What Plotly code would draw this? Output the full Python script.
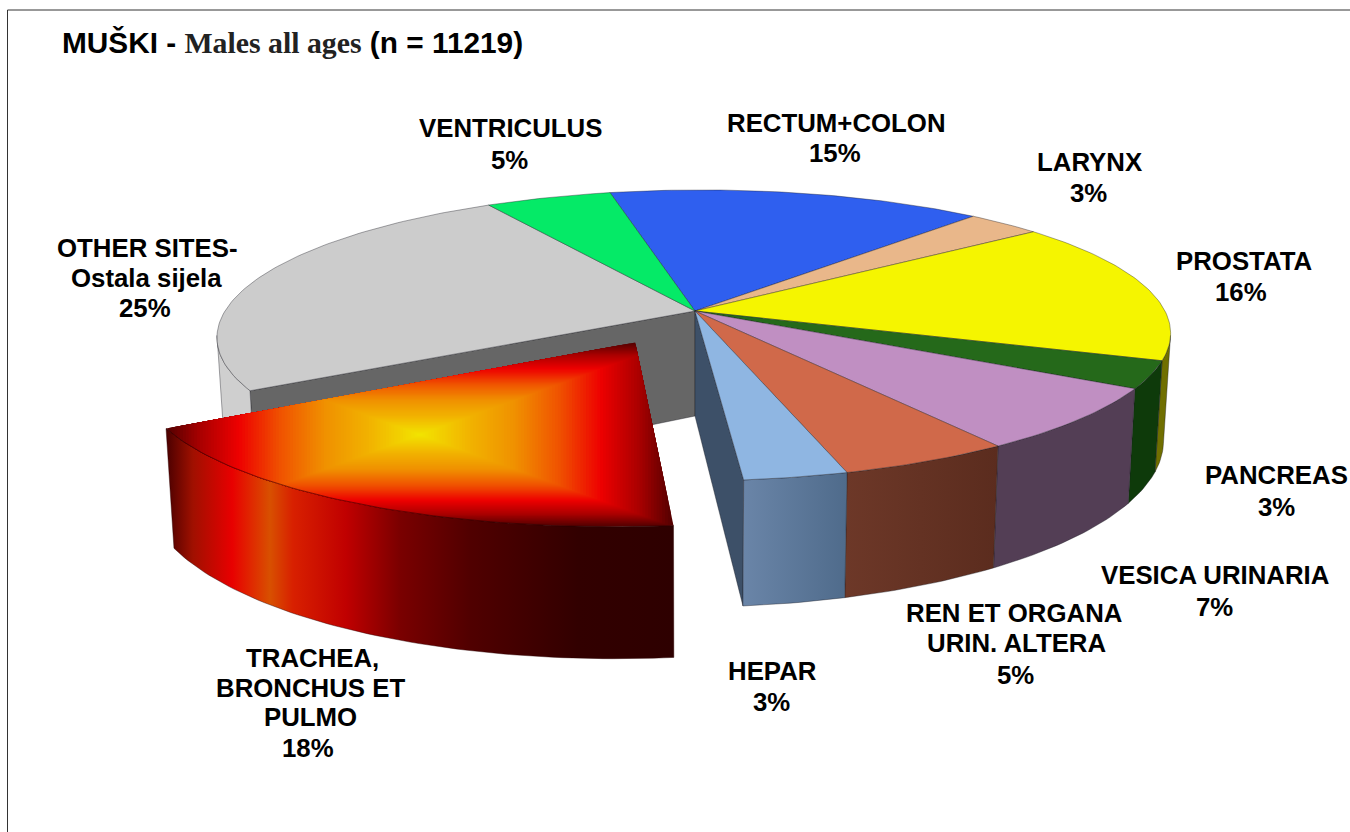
import numpy as np
import plotly.graph_objects as go

# ---------- data ----------
categories = ["RECTUM+COLON", "LARYNX", "PROSTATA", "PANCREAS", "VESICA URINARIA",
              "REN ET ORGANA<br>URIN. ALTERA", "HEPAR", "TRACHEA,<br>BRONCHUS ET<br>PULMO",
              "OTHER SITES-<br>Ostala sijela", "VENTRICULUS"]
values = [15, 3, 16, 3, 7, 5, 3, 18, 25, 5]
top_colors = ["#2f5fef", "#e9b78a", "#f5f500", "#25691a", "#c08fc2",
              "#d0694a", "#8fb6e2", "#c00000", "#cccccc", "#05ea67"]
wall_colors = ["#18307a", "#75593f", "#706f00", "#0e3a0a", "#533e55",
               "#622f20", "#5a7596", "#400000", "#cfcfcf", "#037a34"]
exploded = "TRACHEA,<br>BRONCHUS ET<br>PULMO"
title_male = "MUŠKI - "
title_en = "Males all ages"
title_n = " (n = 11219)"

# ---------- layout of label lines (paper pixels), one entry per text line ----------
label_xy = [
    [(836, 123), (835, 153)],
    [(1089, 162), (1088, 193)],
    [(1244, 261), (1241, 292)],
    [(1276, 475), (1276, 507)],
    [(1215, 575), (1214, 607)],
    [(1014, 613), (1016, 643), (1015, 675)],
    [(772, 671), (771, 702)],
    [(312, 658), (310, 688), (310, 717), (308, 748)],
    [(147, 248), (146, 278), (145, 308)],
    [(510, 128), (509, 160)],
]

# ---------- projection of the tilted disc ----------
CX, CY = 695, 311
A, B, K = 470, 141.4, 0.168
SKEW = 7
H = 105
BOTTOM_X = 0.985
START = -13
PULL = 0.24
PULL_DX = -0.012
EDGE_ANGLE = float(np.degrees(np.arccos(-K)))  # where the rim is widest on screen


def project(X, Z, drop=False):
    d = 1 + K * Z
    x = (A * X + SKEW * Z) / d
    y = -B * Z / d
    if drop:
        x = x * BOTTOM_X
        y = y + H / d
    return CX + x, CY + y


def arc(t1, t2):
    n = max(2, int(abs(t2 - t1)) + 2)
    th = np.radians(np.linspace(t1, t2, n))
    return np.sin(th), np.cos(th)


def poly(xs, ys, color=None, line="rgba(25,25,35,0.55)", lw=0.7, grad=None, name=""):
    kw = dict(x=list(xs), y=list(ys), mode="lines", fill="toself",
              line=dict(color=line, width=lw), hoverinfo="skip", showlegend=False, name=name)
    if grad is not None:
        kw["fillgradient"] = grad
    else:
        kw["fillcolor"] = color
    return go.Scatter(**kw)


def hgrad(x0, x1, stops):
    return dict(type="horizontal", start=x0, stop=x1, colorscale=stops)


# angles computed from the values
cum = np.cumsum([0] + values) * 3.6 + START
spans = list(zip(cum[:-1], cum[1:]))
fig = go.Figure()
ex_i = categories.index(exploded)
mid = np.radians(sum(spans[ex_i]) / 2)
ox, oz = PULL * np.sin(mid) + PULL_DX, PULL * np.cos(mid)

# cut faces bordering the gap
other_i = categories.index("OTHER SITES-<br>Ostala sijela")
hepar_i = categories.index("HEPAR")
for ang, col in [(spans[other_i][0], "#666666"), (spans[hepar_i][1], "#3d5068")]:
    a = np.radians(ang)
    px = [project(0, 0)[0], project(np.sin(a), np.cos(a))[0],
          project(np.sin(a), np.cos(a), True)[0], project(0, 0, True)[0]]
    py = [project(0, 0)[1], project(np.sin(a), np.cos(a))[1],
          project(np.sin(a), np.cos(a), True)[1], project(0, 0, True)[1]]
    fig.add_trace(poly(px + px[:1], py + py[:1], col))

# outer walls, visible front part only
wall_grads = {"HEPAR": [(0, "#6a85a8"), (1, "#4f6b8b")],
              "REN ET ORGANA<br>URIN. ALTERA": [(0, "#6d3828"), (1, "#5b2c1e")]}
for i, (t1, t2) in enumerate(spans):
    if i == ex_i:
        continue
    lo, hi = max(t1, EDGE_ANGLE), min(t2, 360 - EDGE_ANGLE)
    if lo >= hi:
        continue
    X, Z = arc(lo, hi)
    x1, y1 = project(X, Z)
    x2, y2 = project(X[::-1], Z[::-1], True)
    xs, ys = np.r_[x1, x2, x1[:1]], np.r_[y1, y2, y1[:1]]
    g = wall_grads.get(categories[i])
    grad = hgrad(xs.min(), xs.max(), g) if g else None
    fig.add_trace(poly(xs, ys, wall_colors[i], grad=grad, name=categories[i]))

# top faces
for i, (t1, t2) in enumerate(spans):
    if i == ex_i:
        continue
    X, Z = arc(t1, t2)
    x, y = project(np.r_[0, X, 0], np.r_[0, Z, 0])
    fig.add_trace(poly(x, y, top_colors[i], name=categories[i]))

# exploded slice: wall
t1, t2 = spans[ex_i]
X, Z = arc(t1, t2)
x1, y1 = project(X + ox, Z + oz)
x2, y2 = project(X[::-1] + ox, Z[::-1] + oz, True)
xs, ys = np.r_[x1, x2, x1[:1]], np.r_[y1, y2, y1[:1]]
wall_stops = [(166, "#4a0000"), (193, "#a01000"), (232, "#e80000"), (270, "#d85000"),
              (293, "#d82000"), (346, "#c00000"), (400, "#7a0000"), (471, "#500000"),
              (578, "#320000"), (674, "#2e0000")]
x0w, x1w = wall_stops[0][0], wall_stops[-1][0]
fig.add_trace(poly(xs, ys, grad=hgrad(x0w, x1w, [((p - x0w) / (x1w - x0w), c) for p, c in wall_stops]),
                   line="rgba(40,0,0,0.6)", name=exploded))

# exploded slice: top, rectangular path gradient
sx, sy = project(np.r_[ox, X + ox], np.r_[oz, Z + oz])
slice_pts = list(zip(sx, sy))
bx0, bx1, by0, by1 = sx.min(), sx.max(), sy.min(), sy.max()
mx, my = (bx0 + bx1) / 2, (by0 + by1) / 2


def clip(pts, axis, lim, keep_less):
    out = []
    n = len(pts)
    for k in range(n):
        p, q = pts[k], pts[(k + 1) % n]
        pin = p[axis] <= lim if keep_less else p[axis] >= lim
        qin = q[axis] <= lim if keep_less else q[axis] >= lim
        if pin:
            out.append(p)
        if pin != qin:
            f = (lim - p[axis]) / (q[axis] - p[axis])
            out.append((p[0] + f * (q[0] - p[0]), p[1] + f * (q[1] - p[1])))
    return out


grad_t = [0, 0.2, 0.38, 0.55, 0.72, 0.87, 1]
grad_rgb = [(242, 230, 0), (242, 180, 0), (240, 145, 0), (240, 85, 0), (238, 0, 0), (170, 0, 0), (85, 0, 0)]
LEVELS = 90
for lv in range(LEVELS, 0, -1):
    t = lv / LEVELS
    c = [int(np.interp(t, grad_t, [g[j] for g in grad_rgb])) for j in range(3)]
    col = f"rgb({c[0]},{c[1]},{c[2]})"
    pts = slice_pts
    hw, hh = (bx1 - bx0) / 2 * t, (by1 - by0) / 2 * t
    pts = clip(pts, 0, mx - hw, False)
    pts = clip(pts, 0, mx + hw, True) if pts else pts
    pts = clip(pts, 1, my - hh, False) if pts else pts
    pts = clip(pts, 1, my + hh, True) if pts else pts
    if len(pts) > 2:
        pts = pts + pts[:1]
        fig.add_trace(poly([p[0] for p in pts], [p[1] for p in pts], col, line=col, lw=0, name=exploded))
fig.add_trace(go.Scatter(x=list(x1), y=list(y1), mode="lines", line=dict(color="rgba(40,0,0,0.7)", width=0.8),
                         hoverinfo="skip", showlegend=False))

# ---------- text ----------
ann = []
for name, v, where in zip(categories, values, label_xy):
    for line, (lx, ly) in zip(name.split("<br>") + [f"{v}%"], where):
        ann.append(dict(x=lx, y=ly, xref="x", yref="y", text=f"<b>{line}</b>", showarrow=False,
                        xanchor="center", yanchor="middle",
                        font=dict(family="Liberation Sans", size=25.8, color="#000000")))
ann.append(dict(x=60, y=42, xref="x", yref="y", showarrow=False, xanchor="left", yanchor="middle",
                text=f'<b>{title_male}<span style="font-family:Liberation Serif;color:#222">{title_en}</span>{title_n}</b>',
                font=dict(family="Liberation Sans", size=29.8, color="#000000")))

fig.update_layout(
    width=1350, height=832,
    margin=dict(l=0, r=0, t=0, b=0),
    paper_bgcolor="white", plot_bgcolor="white",
    xaxis=dict(range=[0, 1350], visible=False, fixedrange=True),
    yaxis=dict(range=[832, 0], visible=False, fixedrange=True),
    annotations=ann,
    shapes=[dict(type="line", xref="x", yref="y", x0=7.5, x1=7.5, y0=10, y1=832, line=dict(color="#333", width=1)),
            dict(type="line", xref="x", yref="y", x0=7.5, x1=1350, y0=10, y1=10, line=dict(color="#333", width=1))],
)
fig.write_html("out.html", config=dict(displayModeBar=False),
               post_script="document.body.style.margin='0';document.documentElement.style.overflow='hidden';")
